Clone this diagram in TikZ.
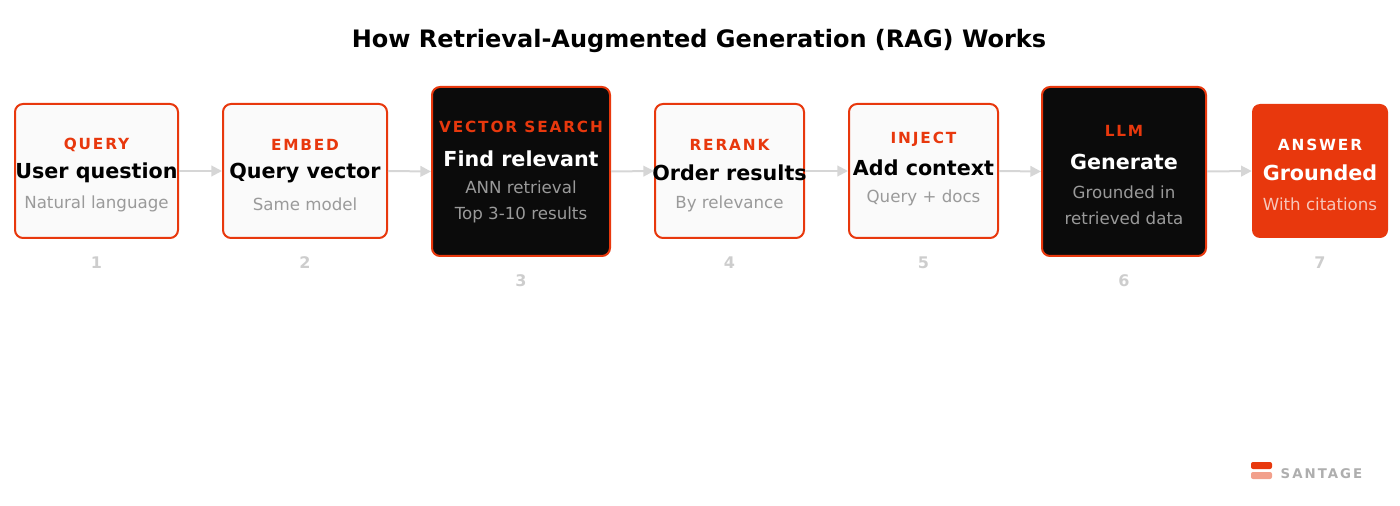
\documentclass[tikz,border=0pt]{standalone}
\usepackage{fontspec}
\setmainfont{DejaVu Sans}
\usetikzlibrary{arrows.meta}
\definecolor{brand}{HTML}{E8380D}
\definecolor{brandlight}{HTML}{F2A08C}
\definecolor{ink}{HTML}{0B0B0B}
\definecolor{paper}{HTML}{FAFAFA}
\definecolor{subgrey}{HTML}{9A9A9A}
\definecolor{numgrey}{HTML}{CDCDCD}
\definecolor{arrgrey}{HTML}{D6D6D6}
\tikzset{
	light box/.style={draw=brand, line width=1.5pt, fill=paper, rounded corners=6pt, inner sep=0pt},
	dark box/.style={draw=brand, line width=1.5pt, fill=ink, rounded corners=6pt, inner sep=0pt},
	answer box/.style={fill=brand, rounded corners=6pt, inner sep=0pt},
	tag/.style={text=brand, font=\fontsize{11.5}{13}\selectfont\bfseries\addfontfeature{LetterSpace=12}},
	main/.style={font=\fontsize{15.5}{17}\selectfont\bfseries},
	sub/.style={text=subgrey, font=\fontsize{12.5}{19.5}\selectfont, align=center},
	num/.style={text=numgrey, font=\fontsize{12}{14}\selectfont\bfseries},
	flow/.style={draw=arrgrey, line width=1.5pt, -{Triangle[length=8pt,width=8pt]}}
}
\begin{document}
\begin{tikzpicture}[x=0.75pt,y=0.75pt,yscale=-1,xscale=1]
	\useasboundingbox (0,0) rectangle (1400,506);

	% title
	\node (title) at (699,41) {\fontsize{18}{20}\selectfont\bfseries How Retrieval-Augmented Generation (RAG) Works};

	% boxes
	\node [light box, minimum width=163*0.75pt, minimum height=134*0.75pt] (query) at (96.5,171) {};
	\node [light box, minimum width=164*0.75pt, minimum height=134*0.75pt] (embed) at (305,171) {};
	\node [dark box, minimum width=178*0.75pt, minimum height=169*0.75pt] (search) at (521,171.5) {};
	\node [light box, minimum width=149*0.75pt, minimum height=134*0.75pt] (rerank) at (729.5,171) {};
	\node [light box, minimum width=149*0.75pt, minimum height=134*0.75pt] (inject) at (923.5,171) {};
	\node [dark box, minimum width=164*0.75pt, minimum height=169*0.75pt] (llm) at (1124,171.5) {};
	\node [answer box, minimum width=136*0.75pt, minimum height=134*0.75pt] (answer) at (1320,171) {};

	% texts
	\node [tag] (queryTag) at (96.5,145) {QUERY};
	\node [main] (queryMain) at (96.5,173) {User question};
	\node [sub] (querySub) at (96.5,204) {Natural language};

	\node [tag] (embedTag) at (305,145) {EMBED};
	\node [main] (embedMain) at (305,173) {Query vector};
	\node [sub] (embedSub) at (305,204) {Same model};

	\node [tag] (searchTag) at (521,127) {VECTOR SEARCH};
	\node [main, text=white] (searchMain) at (521,159) {Find relevant};
	\node [sub, text=subgrey] (searchSub) at (521,202) {ANN retrieval\\Top 3-10 results};

	\node [tag] (rerankTag) at (729.5,145) {RERANK};
	\node [main] (rerankMain) at (729.5,173) {Order results};
	\node [sub] (rerankSub) at (729.5,204) {By relevance};

	\node [tag] (injectTag) at (923.5,139) {INJECT};
	\node [main] (injectMain) at (923.5,168) {Add context};
	\node [sub] (injectSub) at (923.5,198) {Query + docs};

	\node [tag] (llmTag) at (1124,131) {LLM};
	\node [main, text=white] (llmMain) at (1124,162) {Generate};
	\node [sub] (llmSub) at (1124,205) {Grounded in\\retrieved data};

	\node [tag, text=white] (answerTag) at (1320,145) {ANSWER};
	\node [main, text=white] (answerMain) at (1320,173) {Grounded};
	\node [sub, text=brandlight!60!white] (answerSub) at (1320,204) {With citations};

	% step numbers
	\node [num] (n1) at (96.5,263) {1};
	\node [num] (n2) at (305,263) {2};
	\node [num] (n3) at (521,281) {3};
	\node [num] (n4) at (729.5,263) {4};
	\node [num] (n5) at (923.5,263) {5};
	\node [num] (n6) at (1124,281) {6};
	\node [num] (n7) at (1320,263) {7};

	% arrows
	\draw [flow] (query.east) -- (embed.west);
	\draw [flow] (embed.east) -- (search.west);
	\draw [flow] (search.east) -- (rerank.west);
	\draw [flow] (rerank.east) -- (inject.west);
	\draw [flow] (inject.east) -- (llm.west);
	\draw [flow] (llm.east) -- (answer.west);

	% logo
	\fill [brand, rounded corners=1.5pt] (1251,462) rectangle (1272,469);
	\fill [brandlight, rounded corners=1.5pt] (1251,472) rectangle (1272,479);
	\node [text=subgrey!80!white, font=\fontsize{10}{12}\selectfont\bfseries\addfontfeature{LetterSpace=15}, anchor=west] (logo) at (1276,473.5) {SANTAGE};
\end{tikzpicture}
\end{document}
